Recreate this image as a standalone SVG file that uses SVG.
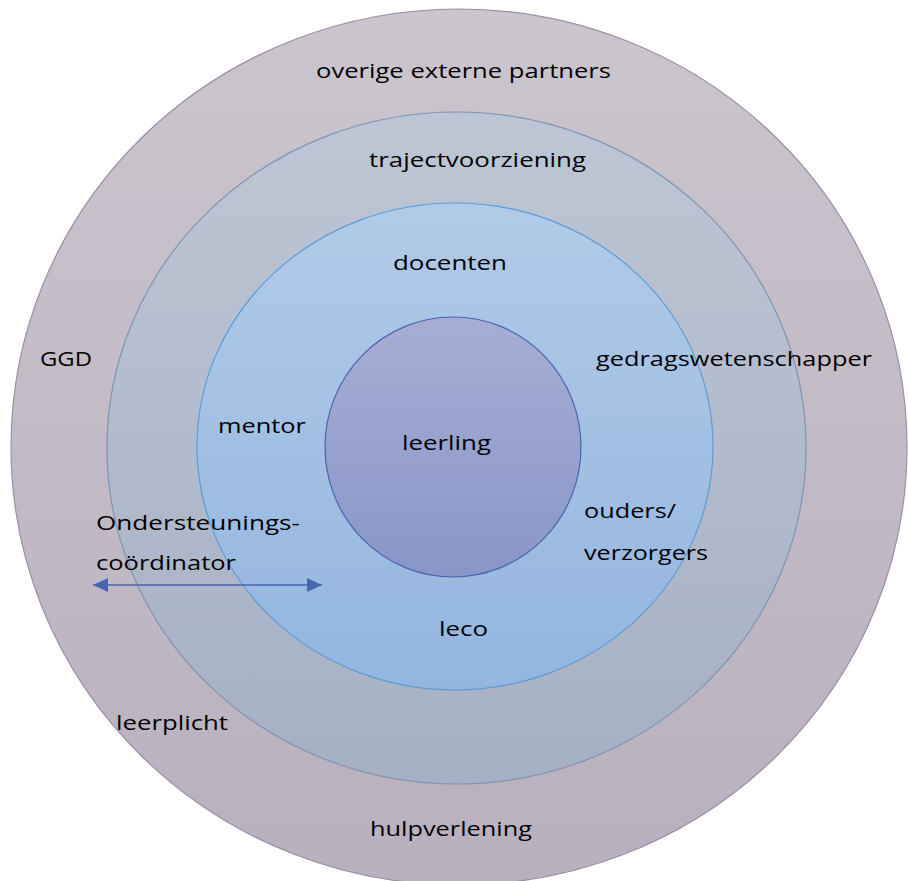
<svg xmlns="http://www.w3.org/2000/svg" width="908" height="881" viewBox="0 0 908 881">
<defs>
<linearGradient id="g1" x1="0" y1="0" x2="0" y2="1"><stop offset="0" stop-color="#cbc5cd"/><stop offset="1" stop-color="#b9b0bf"/></linearGradient>
<linearGradient id="g2" x1="0" y1="0" x2="0" y2="1"><stop offset="0" stop-color="#bdc6d4"/><stop offset="1" stop-color="#a5b0c3"/></linearGradient>
<linearGradient id="g3" x1="0" y1="0" x2="0" y2="1"><stop offset="0" stop-color="#b1cbe7"/><stop offset="1" stop-color="#93b5df"/></linearGradient>
<linearGradient id="g4" x1="0" y1="0" x2="0" y2="1"><stop offset="0" stop-color="#a7aed4"/><stop offset="1" stop-color="#8896c8"/></linearGradient>
<marker id="ah" viewBox="0 0 15 14" refX="15" refY="7" markerWidth="15" markerHeight="14" markerUnits="userSpaceOnUse" orient="auto-start-reverse"><path d="M0,0 L15,7 L0,14 Z" fill="#4865b0"/></marker>
<style>
text{font-family:"Open Sans","Liberation Sans",sans-serif;font-size:20.5px;fill:#000}
</style>
</defs>
<g id="ring-outer"><ellipse cx="459" cy="447" rx="448" ry="438" fill="url(#g1)" stroke="#9a8fa4" stroke-width="1.2"/></g>
<g id="ring-second"><ellipse cx="456.5" cy="448" rx="349.5" ry="336" fill="url(#g2)" stroke="#7f93b3" stroke-width="1.2"/></g>
<g id="ring-third"><ellipse cx="455" cy="446.5" rx="258" ry="243.5" fill="url(#g3)" stroke="#5b9bd5" stroke-width="1.2"/></g>
<g id="ring-inner"><ellipse cx="453" cy="447" rx="128" ry="130" fill="url(#g4)" stroke="#4a62b0" stroke-width="1.2"/></g>
<g id="connectors"><line x1="93" y1="585" x2="322" y2="585" stroke="#4865b0" stroke-width="1.5" marker-start="url(#ah)" marker-end="url(#ah)"/></g>
<g id="labels">
<text x="316" y="78" textLength="295" lengthAdjust="spacingAndGlyphs">overige externe partners</text>
<text x="369" y="167" textLength="217" lengthAdjust="spacingAndGlyphs">trajectvoorziening</text>
<text x="393" y="270" textLength="114" lengthAdjust="spacingAndGlyphs">docenten</text>
<text x="40" y="366" textLength="52" lengthAdjust="spacingAndGlyphs">GGD</text>
<text x="596" y="366" textLength="276" lengthAdjust="spacingAndGlyphs">gedragswetenschapper</text>
<text x="218" y="433" textLength="88" lengthAdjust="spacingAndGlyphs">mentor</text>
<text x="402" y="450" textLength="89" lengthAdjust="spacingAndGlyphs">leerling</text>
<text x="96" y="530" textLength="204" lengthAdjust="spacingAndGlyphs">Ondersteunings-</text>
<text x="96" y="570" textLength="140" lengthAdjust="spacingAndGlyphs">coördinator</text>
<text x="584" y="518" textLength="92" lengthAdjust="spacingAndGlyphs">ouders/</text>
<text x="584" y="560" textLength="124" lengthAdjust="spacingAndGlyphs">verzorgers</text>
<text x="439" y="636" textLength="49" lengthAdjust="spacingAndGlyphs">leco</text>
<text x="116" y="730" textLength="112" lengthAdjust="spacingAndGlyphs">leerplicht</text>
<text x="370" y="836" textLength="162" lengthAdjust="spacingAndGlyphs">hulpverlening</text>
</g>
</svg>
